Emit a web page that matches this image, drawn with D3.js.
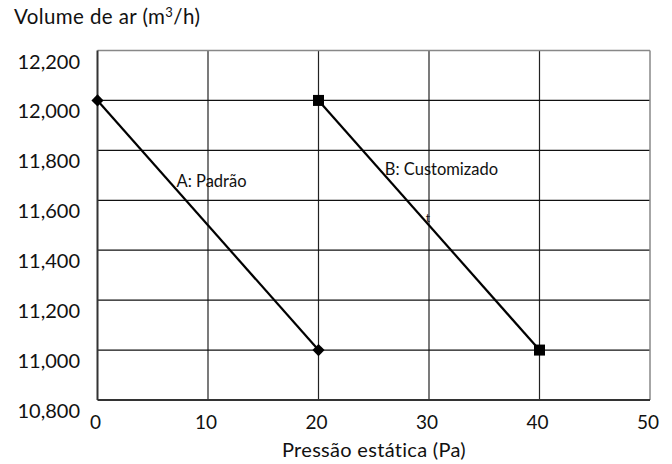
<!DOCTYPE html>
<html><head><meta charset="utf-8">
<script src="https://cdn.jsdelivr.net/npm/d3@7"></script>
<style>body{margin:0;background:#fff}svg{display:block}text{font-family:Lato,"Open Sans",sans-serif;fill:#111;font-variant-ligatures:none;font-feature-settings:"liga" 0}</style>
</head><body><svg id="c" width="672" height="464"></svg>
<script>
const xTicks = [0,10,20,30,40,50];
const yTicks = [10800,11000,11200,11400,11600,11800,12000,12200];
const seriesA = [{x:0,y:12000},{x:20,y:11000}];
const seriesB = [{x:20,y:12000},{x:40,y:11000}];
const seriesLabels = [{name:"A: Padrão",x:7.15,y:11653,size:16.5},{name:"B: Customizado",x:26.0,y:11701,size:16.5},{name:"t",x:29.7,y:11513,size:12}];
const yTitle = "Volume de ar (m";
const xTitle = "Pressão estática (Pa)";

const svg = d3.select("#c");
const x = d3.scaleLinear().domain([0,50]).range([97.5,650]);
const y = d3.scaleLinear().domain([10800,12200]).range([400,50.5]);
const g = svg.append("g");

// grid
g.selectAll("line.v").data(xTicks.slice(1,-1)).join("line")
 .attr("x1",d=>x(d)).attr("x2",d=>x(d)).attr("y1",y(12200)).attr("y2",y(10800))
 .attr("stroke","#222").attr("stroke-width",1.2);
g.selectAll("line.h").data(yTicks.slice(1,-1)).join("line")
 .attr("x1",x(0)).attr("x2",x(50)).attr("y1",d=>y(d)).attr("y2",d=>y(d))
 .attr("stroke","#111").attr("stroke-width",1.3);
// frame
g.append("line").attr("x1",x(0)).attr("x2",x(50)).attr("y1",y(12200)).attr("y2",y(12200)).attr("stroke","#888").attr("stroke-width",1.5);
g.append("line").attr("x1",x(50)).attr("x2",x(50)).attr("y1",y(12200)).attr("y2",y(10800)).attr("stroke","#888").attr("stroke-width",1.5);
g.append("line").attr("x1",x(0)).attr("x2",x(50)).attr("y1",y(10800)).attr("y2",y(10800)).attr("stroke","#333").attr("stroke-width",2);
g.append("line").attr("x1",x(0)).attr("x2",x(0)).attr("y1",y(12200)).attr("y2",y(10800)).attr("stroke","#333").attr("stroke-width",2);

// y tick labels
g.selectAll("text.yt").data(yTicks).join("text")
 .attr("x",80).attr("y",d=>y(d)+18).attr("text-anchor","end")
 .attr("font-size",20).text(d=>d3.format(",")(d));
// x tick labels
g.selectAll("text.xt").data(xTicks).join("text")
 .attr("x",d=>x(d)-2).attr("y",429).attr("text-anchor","middle")
 .attr("font-size",19).text(d=>d);

// title
const t = svg.append("text").attr("x",14).attr("y",24).attr("font-size",20.5).attr("letter-spacing",0.4);
t.append("tspan").text(yTitle);
t.append("tspan").attr("dy",-7).attr("font-size",13).text("3");
t.append("tspan").attr("dy",7).text("/h)");
svg.append("text").attr("x",374).attr("y",457).attr("text-anchor","middle").attr("font-size",20).attr("letter-spacing",0.3).text(xTitle);

// lines
const line = d3.line().x(d=>x(d.x)).y(d=>y(d.y));
[seriesA,seriesB].forEach(s=>g.append("path").attr("d",line(s)).attr("fill","none").attr("stroke","#000").attr("stroke-width",2.2));
g.selectAll("path.da").data(seriesA).join("path")
 .attr("d",d3.symbol().type(d3.symbolSquare).size(74))
 .attr("transform",d=>`translate(${x(d.x)},${y(d.y)}) rotate(45)`).attr("fill","#000");
g.selectAll("rect.sb").data(seriesB).join("rect")
 .attr("x",d=>x(d.x)-5.5).attr("y",d=>y(d.y)-5.5).attr("width",11).attr("height",11).attr("fill","#000");

// labels
g.selectAll("text.lab").data(seriesLabels).join("text")
 .attr("x",d=>x(d.x)).attr("y",d=>y(d.y)).attr("font-size",d=>d.size).text(d=>d.name);
</script></body></html>
